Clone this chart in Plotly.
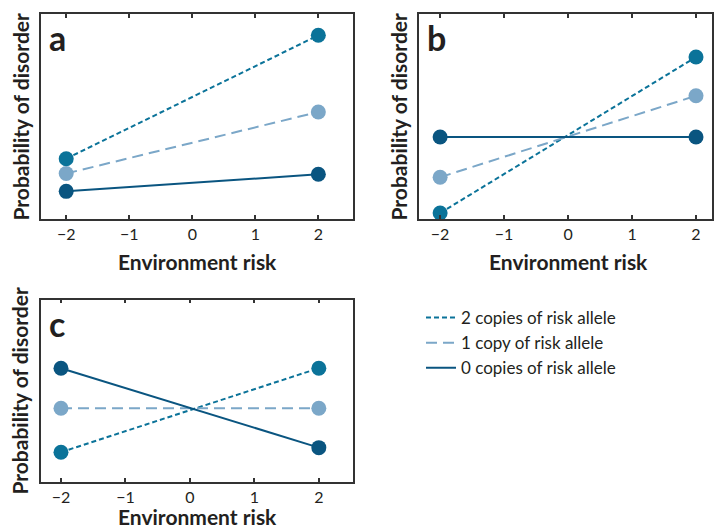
import plotly.graph_objects as go

W, H = 714, 531

# Data
env_risk = [-2, 2]
panels = ["a", "b", "c"]
two_copies = {"a": [0.294, 0.896], "b": [0.029, 0.790], "c": [0.162, 0.623]}
one_copy = {"a": [0.222, 0.522], "b": [0.204, 0.601], "c": [0.403, 0.403]}
zero_copies = {"a": [0.135, 0.218], "b": [0.400, 0.400], "c": [0.623, 0.187]}
x_tick_vals = [-2, -1, 0, 1, 2]
series_names = ["2 copies of risk allele", "1 copy of risk allele", "0 copies of risk allele"]

colors = ["#0b7399", "#7ba7c8", "#0a5580"]
dashes = ["5px,3px", "11px,6px", "solid"]

# pixel boxes (left, top, right, bottom)
boxes = {"a": (41, 14, 353, 219), "b": (419, 14, 712, 219), "c": (41, 299.5, 353, 481.7)}
xranges = {"a": [-2.4, 2.55], "b": [-2.33, 2.25], "c": [-2.31, 2.53]}

FONT = "Lato"
TXT = "#231f20"
fig = go.Figure()
axis_ids = {"a": ("x", "y"), "b": ("x2", "y2"), "c": ("x3", "y3")}

for p in panels:
    xa, ya = axis_ids[p]
    for name, vals, col, dash in zip(series_names, [two_copies[p], one_copy[p], zero_copies[p]], colors, dashes):
        fig.add_trace(go.Scatter(
            x=env_risk, y=vals, mode="lines+markers", xaxis=xa, yaxis=ya,
            line=dict(color=col, width=2, dash=dash),
            marker=dict(color=col, size=15),
            showlegend=False, name=name, cliponaxis=False))

# legend-only traces
for name, col, dash in zip(series_names, colors, dashes):
    fig.add_trace(go.Scatter(x=[None], y=[None], mode="lines", name=name,
                             line=dict(color=col, width=2, dash=dash), showlegend=True))

layout = dict(width=W, height=H, margin=dict(l=0, r=0, t=0, b=0),
              paper_bgcolor="white", plot_bgcolor="white",
              font=dict(family=FONT, color=TXT))

annotations = []
for i, p in enumerate(panels):
    l, t, r, b = boxes[p]
    suffix = "" if i == 0 else str(i + 1)
    layout["xaxis" + suffix] = dict(
        domain=[l / W, r / W], anchor="y" + suffix, range=xranges[p],
        tickvals=x_tick_vals, ticks="inside", ticklen=4, tickwidth=1.5, tickcolor="#333",
        showline=True, linecolor="#333", linewidth=1.5, mirror="ticks",
        showgrid=False, zeroline=False, tickfont=dict(size=16, family=FONT, color=TXT),
        ticklabelstandoff=0)
    layout["yaxis" + suffix] = dict(
        domain=[1 - b / H, 1 - t / H], anchor="x" + suffix, range=[0, 1],
        showticklabels=False, ticks="", showline=True, linecolor="#333", linewidth=1.5,
        mirror=True, showgrid=False, zeroline=False)
    cx = (l + r) / 2
    cy = (t + b) / 2
    # x title
    if p == "c":
        ty, tanchor = 0, "bottom"
    else:
        ty, tanchor = 1 - (b + 42) / H, "middle"
    annotations.append(dict(text="<b>Environment risk</b>", x=(cx + (3 if p == "b" else 0)) / W,
                            y=ty, xref="paper", yref="paper",
                            showarrow=False, font=dict(size=21, family=FONT, color=TXT),
                            xanchor="center", yanchor=tanchor))
    # y title
    annotations.append(dict(text="<b>Probability of disorder</b>", x=(l - 21) / W, y=1 - cy / H,
                            xref="paper", yref="paper", textangle=-90, showarrow=False,
                            font=dict(size=21, family=FONT, color=TXT),
                            xanchor="center", yanchor="middle"))
    # panel letter
    annotations.append(dict(text="<b>%s</b>" % p, x=(l + 6) / W, y=1 - (t + 24) / H,
                            xref="paper", yref="paper", showarrow=False,
                            font=dict(size=34, family=FONT, color=TXT),
                            xanchor="left", yanchor="middle"))

layout["annotations"] = annotations
layout["legend"] = dict(x=421 / W, y=1 - 300 / H, xanchor="left", yanchor="top",
                        font=dict(size=17, family=FONT, color=TXT),
                        itemwidth=30, tracegroupgap=0, bgcolor="rgba(0,0,0,0)")
fig.update_layout(**layout)
fig.write_html("out.html", config={"displayModeBar": False},
               post_script="document.body.style.margin='0';document.body.style.overflow='hidden';")
